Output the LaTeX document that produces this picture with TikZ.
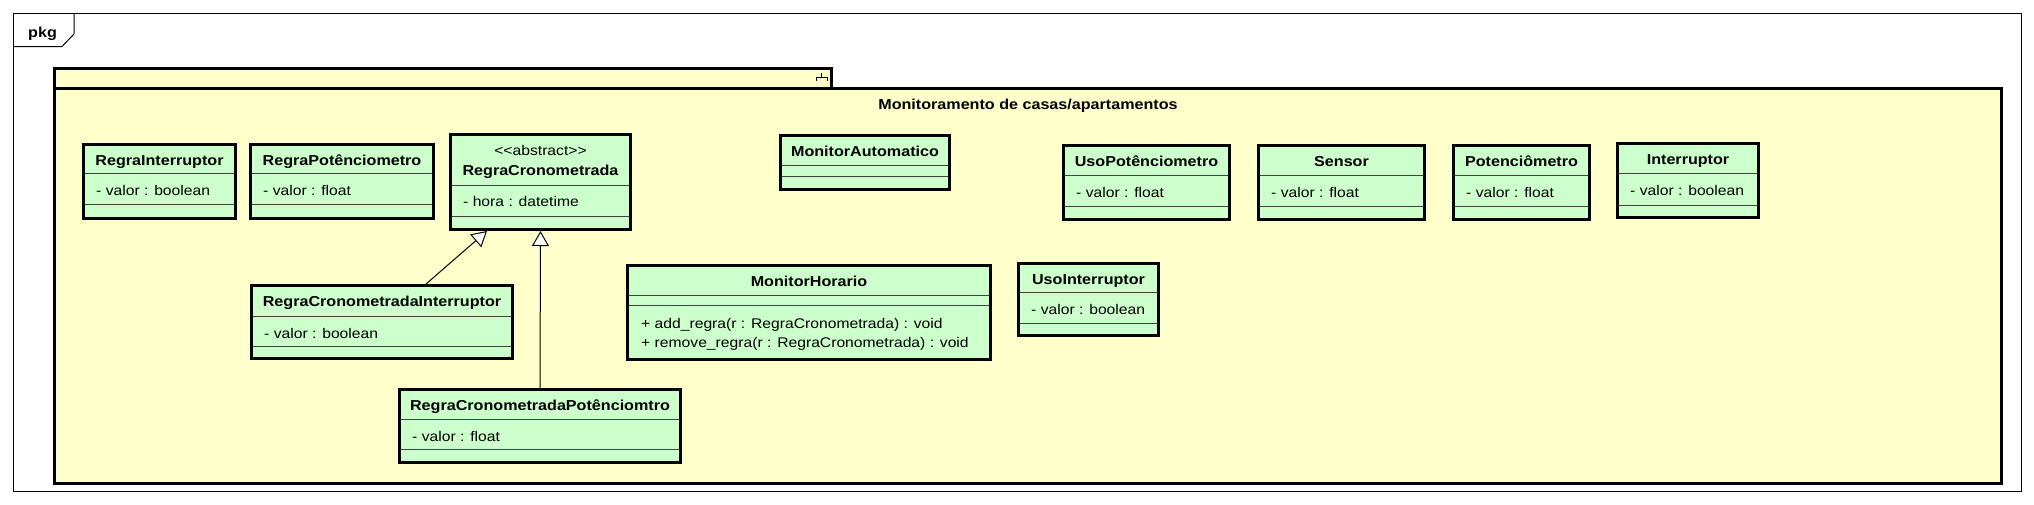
\documentclass[tikz,border=0pt]{standalone}
\usepackage{fontspec}
\setmainfont{Liberation Sans}[FakeStretch=1.12]
\usetikzlibrary{arrows.meta,fit}
\definecolor{clsfill}{HTML}{CCFFCC}
\definecolor{pkgfill}{HTML}{FFFFCC}
\tikzset{
  clsbox/.style={draw=black, line width=3pt, fill=clsfill, inner sep=0pt},
  sepline/.style={draw=black!75, line width=1pt},
  pkgline/.style={draw=black, line width=3pt, fill=pkgfill},
  frameline/.style={draw=black, line width=1pt},
  gen/.style={draw=black, line width=1pt, -{Triangle[length=15pt,width=17pt,fill=white]}},
  txt/.style={inner sep=0pt, font=\fontsize{14}{14}\selectfont},
  boldtxt/.style={inner sep=0pt, font=\fontsize{14.4}{14}\selectfont\bfseries},
}
% #1 id, #2 x1, #3 y1, #4 x2, #5 y2, #6 sep1, #7 sep2, #8 name, #9 attribute
\newcommand\umlcls[9]{%
  \node[clsbox, fit={(#2+1.5,#3+1.5) (#4-1.5,#5-1.5)}] (#1) {};
  \draw[sepline] (#2+3,#6) -- (#4-3,#6);
  \draw[sepline] (#2+3,#7) -- (#4-3,#7);
  \node[boldtxt, anchor=base] (#1-name) at ({(#2+#4)/2},#3+22.7) {#8};
  \node[txt, anchor=base west] (#1-attr) at (#2+14,#6+22.5) {#9};
}
\begin{document}
\begin{tikzpicture}[x=1pt, y=-1pt]
\useasboundingbox (0,0) rectangle (2034,504);
\fill[white] (0,0) rectangle (2034,504);
% outer frame
\draw[frameline] (13.5,13.5) rectangle (2021.5,491.5);
\draw[frameline] (13.5,46.5) -- (62,46.5) -- (74,34) -- (74,13.5);
\node[boldtxt, anchor=base west] (pkglabel) at (28,37) {pkg};
% inner package
\draw[pkgline] (54.5,68.5) rectangle (831.5,88.5);
\draw[pkgline] (54.5,88.5) rectangle (2001.5,483.5);
\draw[line width=1pt] (816,81) -- (816,77) -- (827,77) -- (827,81);
\draw[line width=1pt] (821.5,77) -- (821.5,72.5);
\node[boldtxt, anchor=base] (title) at (1028,109) {Monitoramento de casas/apartamentos};
% classes
\umlcls{ri}{82}{143}{237}{220}{173}{204}{RegraInterruptor}{- valor : boolean}
\umlcls{rp}{249}{143}{435}{220}{173}{204}{RegraPotênciometro}{- valor : float}
\umlcls{up}{1062}{144}{1231}{221}{175}{206}{UsoPotênciometro}{- valor : float}
\umlcls{se}{1257}{144}{1426}{221}{175}{206}{Sensor}{- valor : float}
\umlcls{po}{1452}{144}{1591}{221}{175}{206}{Potenciômetro}{- valor : float}
\umlcls{intr}{1616}{142}{1760}{219}{173}{205}{Interruptor}{- valor : boolean}
\umlcls{rci}{250}{284}{514}{360}{316}{346}{RegraCronometradaInterruptor}{- valor : boolean}
\umlcls{rcp}{398}{388}{682}{464}{419}{449}{RegraCronometradaPotênciomtro}{- valor : float}
\umlcls{ui}{1017}{262}{1160}{337}{292}{323}{UsoInterruptor}{- valor : boolean}
% RegraCronometrada (abstract)
\node[clsbox, fit={(450.5,134.5) (630.5,229.5)}] (rc) {};
\draw[sepline] (452,185) -- (629,185);
\draw[sepline] (452,216) -- (629,216);
\node[txt, anchor=base] (rc-st) at (540.5,155) {<\kern0pt<abstract>\kern0pt>};
\node[boldtxt, anchor=base] (rc-name) at (540.5,175.7) {RegraCronometrada};
\node[txt, anchor=base west] (rc-attr) at (463,206.7) {- hora : datetime};
% MonitorAutomatico
\node[clsbox, fit={(780.5,135.5) (949.5,189.5)}] (ma) {};
\draw[sepline] (782,165) -- (948,165);
\draw[sepline] (782,176) -- (948,176);
\node[boldtxt, anchor=base] (ma-name) at (865,156.7) {MonitorAutomatico};
% MonitorHorario
\node[clsbox, fit={(627.5,265.5) (990.5,359.5)}] (mh) {};
\draw[sepline] (629,295.5) -- (989,295.5);
\draw[sepline] (629,305.5) -- (989,305.5);
\node[boldtxt, anchor=base] (mh-name) at (809,286.7) {MonitorHorario};
\node[txt, anchor=base west] (mh-m1) at (641,328.3) {+ add\_regra(r : RegraCronometrada) : void};
\node[txt, anchor=base west] (mh-m2) at (641,347.5) {+ remove\_regra(r : RegraCronometrada) : void};
% generalizations
\draw[gen] (rcp.north) -- (rc.south);
\draw[gen] ([xshift=44pt]rci.north) -- ([xshift=-53.5pt]rc.south);
\end{tikzpicture}
\end{document}
